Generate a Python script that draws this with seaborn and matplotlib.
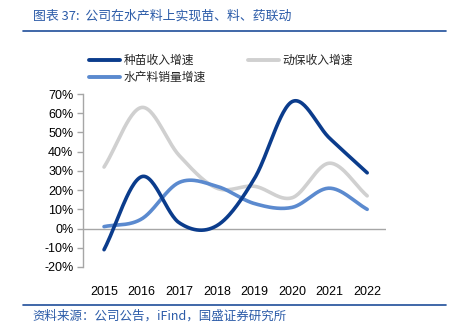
import numpy as np
import pandas as pd
import matplotlib
matplotlib.use("Agg")
import matplotlib.pyplot as plt
import seaborn as sns
from matplotlib.lines import Line2D

years = [2015, 2016, 2017, 2018, 2019, 2020, 2021, 2022]
seed_growth = [-11, 27, 3, 1.5, 26, 66, 47, 29]
animal_health_growth = [32, 63, 38, 21, 22, 16, 34, 17]
feed_volume_growth = [1, 5, 24, 22, 13, 11, 21, 10]
series_names = ["种苗收入增速", "动保收入增速", "水产料销量增速"]
yticks = [-20, -10, 0, 10, 20, 30, 40, 50, 60, 70]

colors = {"种苗收入增速": "#0B3C8C", "动保收入增速": "#D0D0D0", "水产料销量增速": "#5B8ACF"}

sns.set_theme(style="white")
plt.rcParams["font.family"] = ["Liberation Sans", "Noto Sans CJK SC", "DejaVu Sans"]


def smooth(xs, ys, n=30):
    # Catmull-Rom style smoothing for display (like Excel's smoothed line)
    xs = np.asarray(xs, float); ys = np.asarray(ys, float)
    P = np.column_stack([xs, ys])
    P = np.vstack([P[0] - (P[1] - P[0]), P, P[-1] + (P[-1] - P[-2])])
    out = []
    for i in range(1, len(P) - 2):
        p0, p1, p2, p3 = P[i - 1], P[i], P[i + 1], P[i + 2]
        t = np.linspace(0, 1, n, endpoint=False)[:, None]
        pts = 0.5 * ((2 * p1) + (-p0 + p2) * t + (2 * p0 - 5 * p1 + 4 * p2 - p3) * t ** 2
                     + (-p0 + 3 * p1 - 3 * p2 + p3) * t ** 3)
        out.append(pts)
    out.append(P[-2][None, :])
    out = np.vstack(out)
    return out[:, 0], out[:, 1]


frames = []
for name, vals in zip(series_names, [seed_growth, animal_health_growth, feed_volume_growth]):
    sx, sy = smooth(years, vals)
    frames.append(pd.DataFrame({"x": sx, "y": sy, "series": name, "order": np.arange(len(sx))}))
df = pd.concat(frames, ignore_index=True)

fig = plt.figure(figsize=(4.57, 3.28), dpi=100)
ax = fig.add_axes([0.1816, 0.186, 0.663, 0.5274])

ax.axhline(0, color="#A6A6A6", lw=1.0, zorder=1)
for name in ["动保收入增速", "水产料销量增速", "种苗收入增速"]:
    sub = df[df["series"] == name]
    sns.lineplot(data=sub, x="x", y="y", sort=False, estimator=None, ax=ax,
                 color=colors[name], lw=2.6, legend=False, zorder=3)

ax.set_xlim(2014.44, 2022.5)
ax.set_ylim(-20, 70)
ax.set_yticks(yticks)
ax.set_yticklabels([f"{v}%" for v in yticks])
ax.set_xticks(years)
ax.set_xticklabels([str(y) for y in years])
ax.set_xlabel(""); ax.set_ylabel("")
for s in ["top", "right", "bottom"]:
    ax.spines[s].set_visible(False)
ax.spines["left"].set_color("#A6A6A6")
ax.spines["left"].set_linewidth(1.0)
ax.tick_params(axis="y", which="both", left=True, length=4, width=1, color="#A6A6A6",
               labelsize=9, pad=3, labelcolor="#000000")
ax.tick_params(axis="x", bottom=False, labelsize=9, pad=8, labelcolor="#000000")
ax.grid(False)

# legend (row-major order: 种苗, 动保 / 水产料)
leg_order = ["种苗收入增速", "水产料销量增速", "动保收入增速"]
handles = [Line2D([0], [0], color=colors[n], lw=2.8) for n in leg_order]
leg = fig.legend(handles, leg_order, loc="upper left", bbox_to_anchor=(0.172, 0.868),
                 ncol=2, frameon=False, handlelength=2.6, handletextpad=0.3,
                 columnspacing=3.6, labelspacing=0.35,
                 prop={"family": ["Noto Sans CJK SC"], "size": 8.5})

# title
fig.text(0.072, 0.952, "图表 37:  公司在水产料上实现苗、料、药联动", color="#2B5BA8",
         fontsize=9.3, style="italic", family=["Noto Sans CJK SC", "DejaVu Sans"], va="center")
fig.add_artist(Line2D([0.05, 0.977], [0.907, 0.907], color="#1F4E9A", lw=1.2))
fig.add_artist(Line2D([0.05, 0.977], [0.07, 0.07], color="#1F4E9A", lw=1.2))
fig.text(0.072, 0.016, "资料来源：公司公告，iFind，国盛证券研究所", color="#2B5BA8",
         fontsize=9, style="italic", family=["Noto Sans CJK SC", "DejaVu Sans"], va="bottom")

fig.savefig("out.png", dpi=100)
